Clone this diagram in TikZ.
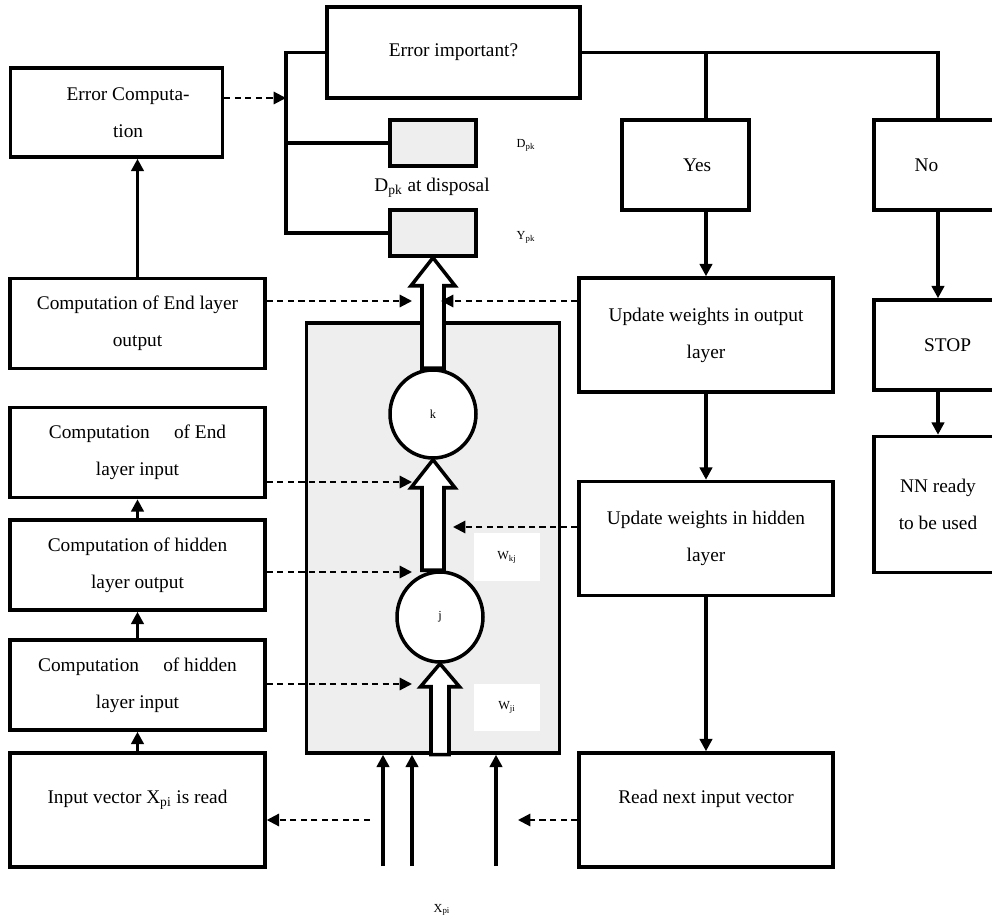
\documentclass[tikz,border=0pt]{standalone}
\usepackage{fontspec}
\setmainfont{Liberation Serif}
\usetikzlibrary{calc}
\usetikzlibrary{positioning}
\usetikzlibrary{shapes.geometric, arrows.meta}
\definecolor{panelgrey}{HTML}{EEEEEE}
\tikzstyle{process} = [rectangle, draw=black, line width=2pt, fill=white,
align = center, font=\fontsize{11}{21}\selectfont]
\tikzstyle{leftbox} = [process, minimum width=5.1cm, minimum height=1.8cm]
\tikzstyle{rightbox} = [process, minimum width=5.08cm, minimum height=2.28cm]
\tikzstyle{smallbox} = [process, minimum width=2.56cm, minimum height=1.8cm]
\tikzstyle{highline} = [text height=7.5pt, text depth=15pt] % text near the top of a tall box
\tikzstyle{holder} = [rectangle, draw=black, line width=2pt, fill=panelgrey,
minimum width=1.72cm, minimum height=0.92cm]
\tikzstyle{neuron} = [ellipse, draw=black, line width=2pt, fill=white, inner sep=0pt,
font=\fontsize{7}{8}\selectfont]
\tikzstyle{weight} = [rectangle, fill=white, minimum width=1.34cm, minimum height=0.96cm,
font=\fontsize{7}{8}\selectfont]
\tikzstyle{tiny} = [font=\fontsize{7}{8}\selectfont]
\tikzstyle{line} = [line width=2pt]
\tikzstyle{arrow} = [line width=2pt, -{Triangle[length=7pt,width=7pt]}]
\tikzstyle{dasharrow} = [line width=1.2pt, dash pattern=on 3.5pt off 2.5pt,
-{Triangle[length=7pt,width=7pt]}]
\tikzstyle{blockarrow} = [line width=2pt, fill=white, line join=miter]
% hollow arrow: tail, tip, shaft half width, head half width, head length
\newcommand{\hollowarrow}[5]{%
  \draw[blockarrow] ($(#2 |- #1)+(-#3,0)$) -- ($(#2)+(-#3,#5)$) -- ($(#2)+(-#4,#5)$) -- (#2)
    -- ($(#2)+(#4,#5)$) -- ($(#2)+(#3,#5)$) -- ($(#2 |- #1)+(#3,0)$) -- cycle;}

\begin{document}
\begin{tikzpicture}[x=0.02cm, y=-0.02cm]
  \useasboundingbox (0,0) rectangle (992,919);

  % decision and error
  \node[process, minimum width=5.06cm, minimum height=1.82cm] (errimp) at (453.5,52.5) {Error important?};
  \node[process, minimum width=4.24cm, minimum height=1.78cm] (errcomp) at (116.5,112.5) {\hspace*{1.2em}Error Computa-\\\hspace*{1.2em}tion};
  \node[holder] (dbox) at (433,143) {};
  \node[holder] (ybox) at (433,233) {};
  \node[tiny] (dlab) at (526,145) {D\textsubscript{pk}};
  \node[tiny] (ylab) at (526,237) {Y\textsubscript{pk}};
  \node[font=\fontsize{11}{13}\selectfont] (disp) at (432,188) {D\textsubscript{pk} at disposal};

  % left column
  \node[leftbox] (endout) at (137.5,323.5) {Computation of End layer\\output};
  \node[leftbox] (endin) at (137.5,452.5) {Computation \quad of End\\layer input};
  \node[leftbox] (hidout) at (137.5,565) {Computation of hidden\\layer output};
  \node[leftbox] (hidin) at (137.5,685) {Computation \quad of hidden\\layer input};
  \node[leftbox, highline, minimum height=2.28cm] (inread) at (137.5,810) {Input vector X\textsubscript{pi} is read};

  % network panel
  \node[rectangle, draw=black, line width=2pt, fill=panelgrey,
        minimum width=5.06cm, minimum height=8.6cm] (panel) at (433,538) {};
  \node[neuron, minimum width=1.72cm, minimum height=1.76cm] (kn) at (433,414) {k};
  \node[neuron, minimum width=1.72cm, minimum height=1.8cm] (jn) at (440,617) {j};
  \node[weight] (wkj) at (507,557) {W\textsubscript{kj}};
  \node[weight] (wji) at (507,707.5) {W\textsubscript{ji}};
  \hollowarrow{kn.north}{ybox.south}{11}{22}{28}
  \hollowarrow{jn.north}{kn.south}{11}{22}{28}
  \hollowarrow{panel.south}{jn.south}{9}{19.5}{23}

  % right column
  \node[smallbox, minimum width=2.54cm] (yes) at (685.5,165) {\hspace*{1.2em}Yes};
  \node[smallbox] (no) at (938,165) {No\hspace*{1.2em}};
  \node[smallbox] (stop) at (938,345) {\hspace*{1em}STOP};
  \node[smallbox, minimum height=2.72cm] (ready) at (938,504.5) {NN ready\\to be used};
  \node[rightbox] (updout) at (706,335) {Update weights in output\\layer};
  \node[rightbox] (updhid) at (706,538.5) {Update weights in hidden\\layer};
  \node[rightbox, highline] (readnext) at (706,810) {Read next input vector};

  % free ends
  \coordinate (bus) at (286,98);
  \coordinate (in1) at (412,301);
  \coordinate (in2) at (412,482);
  \coordinate (in3) at (412,572);
  \coordinate (in4) at (412,684);
  \coordinate (back1) at (441,301);
  \coordinate (back2) at (453,527);
  \coordinate (back3) at (518,820);
  \coordinate (toread) at (370,820);
  \coordinate (x1) at (383,866);
  \coordinate (x2) at (412,866);
  \coordinate (x3) at (496,866);

  % bus to the decision
  \draw[line] (errimp.west) -| (bus |- ybox.west) -- (ybox.west);
  \draw[line] (bus |- dbox.west) -- (dbox.west);
  \draw[dasharrow] (errcomp.east |- bus) -- (bus);

  % branches
  \draw[line] (errimp.east) -| (no.north);
  \draw[line] (updout.north |- errimp.east) -- (updout.north |- yes.north);
  \draw[arrow] (updout.north |- yes.south) -- (updout.north);
  \draw[arrow] (updout.south) -- (updhid.north);
  \draw[arrow] (updhid.south) -- (readnext.north);
  \draw[arrow] (no.south) -- (stop.north);
  \draw[arrow] (stop.south) -- (ready.north);

  % left column flow
  \draw[arrow] (endout.north) -- (endout.north |- errcomp.south);
  \draw[arrow] (hidout.north) -- (endin.south);
  \draw[arrow] (hidin.north) -- (hidout.south);
  \draw[arrow] (inread.north) -- (hidin.south);

  % dashed links
  \draw[dasharrow] (endout.east |- in1) -- (in1);
  \draw[dasharrow] (endin.east |- in2) -- (in2);
  \draw[dasharrow] (hidout.east |- in3) -- (in3);
  \draw[dasharrow] (hidin.east |- in4) -- (in4);
  \draw[dasharrow] (updout.west |- back1) -- (back1);
  \draw[dasharrow] (updhid.west |- back2) -- (back2);
  \draw[dasharrow] (readnext.west |- back3) -- (back3);
  \draw[dasharrow] (toread) -- (inread.east |- toread);

  % inputs
  \draw[arrow] (x1) -- (x1 |- panel.south);
  \draw[arrow] (x2) -- (x2 |- panel.south);
  \draw[arrow] (x3) -- (x3 |- panel.south);
  \node[tiny] (xpi) at (442,910) {X\textsubscript{pi}};
\end{tikzpicture}
\end{document}
